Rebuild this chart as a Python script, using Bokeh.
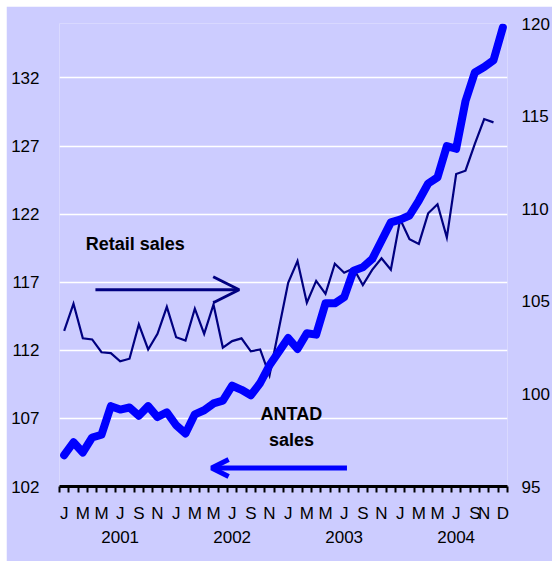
from bokeh.plotting import figure
from bokeh.models import (Range1d, LinearAxis, FixedTicker, Label, Arrow,
                          OpenHead, AllLabels, ColumnDataSource)
from bokeh.embed import file_html
from bokeh.resources import INLINE

nan = float("nan")

# ---- data -------------------------------------------------------------
month_index = list(range(48))  # Jan 2001 .. Dec 2004

antad_sales = [
    104.3, 105.25, 104.5, 105.6, 105.8, 107.9, 107.65, 107.8, 107.2, 107.9, 107.1, 107.45,
    106.5, 105.9, 107.3, 107.6, 108.1, 108.3, 109.4, 109.1, 108.7, 109.6, 110.9, 111.9,
    112.9, 112.1, 113.25, 113.15, 115.45, 115.45, 115.9, 117.85, 118.1, 118.7, 120.05, 121.4,
    121.6, 121.9, 123.0, 124.25, 124.7, 127.0, 126.8, 130.3, 132.4, 132.8, 133.3, 135.7,
]

retail_sales = [
    103.4, 104.87, 103.0, 102.94, 102.25, 102.2, 101.76, 101.9, 103.75, 102.4, 103.24, 104.7,
    103.06, 102.88, 104.6, 103.24, 104.83, 102.5, 102.85, 103.0, 102.3, 102.4, 101.0, 103.5,
    106.0, 107.17, 104.92, 106.1, 105.4, 107.03, 106.54, 106.78, 105.88, 106.7, 107.32, 106.7,
    109.43, 108.35, 108.1, 109.75, 110.24, 108.44, 111.87, 112.05, 113.5, 114.84, 114.66, nan,
]

left_ticks = [102, 107, 112, 117, 122, 127, 132]
right_ticks = [95, 100, 105, 110, 115, 120]

month_label_pos = [0, 2, 4, 6, 8, 10,
                   12, 14, 16, 18, 20, 22,
                   24, 26, 28, 30, 32, 34,
                   36, 38, 40, 42, 44, 45, 47]
month_label_text = ["J", "M", "M", "J", "S", "N",
                    "J", "M", "M", "J", "S", "N",
                    "J", "M", "M", "J", "S", "N",
                    "J", "M", "M", "J", "S", "N", "D"]

year_label_pos = [6, 18, 30, 42]
year_label_text = ["2001", "2002", "2003", "2004"]

# annotation anchors (data units: month index, left-axis value)
retail_text_xy = (2.3, 119.8)
antad_text_x = 24.35
antad_text_y = [107.35, 105.45]
retail_arrow = (3.35, 18.75, 116.45)
antad_arrow = (30.3, 15.8, 103.36)

# ---- styling ----------------------------------------------------------
BG = "#CCCCFF"
FONT = "Liberation Sans"
TICK_FS = "17px"

p = figure(width=546, height=555, output_backend="svg", toolbar_location=None,
           x_range=Range1d(-0.5, 47.5), y_range=Range1d(102, 136),
           min_border_left=53, min_border_right=44, min_border_top=17,
           min_border_bottom=75)
p.margin = (6, 0, 0, 6)
p.background_fill_color = BG
p.border_fill_color = BG
p.outline_line_color = None

p.extra_y_ranges = {"retail": Range1d(95, 120)}

# grid
p.xgrid.visible = False
p.ygrid.ticker = FixedTicker(ticks=left_ticks[1:])
p.ygrid.grid_line_color = "white"
p.ygrid.grid_line_width = 1.5

# left axis
ya = p.yaxis[0]
ya.ticker = FixedTicker(ticks=left_ticks)
ya.axis_line_color = None
ya.major_tick_line_color = None
ya.minor_tick_line_color = None
ya.major_tick_out = 0
ya.major_tick_in = 0
ya.major_label_standoff = 20
ya.major_label_text_font = FONT
ya.major_label_text_font_size = TICK_FS
ya.major_label_text_color = "black"

# right axis
ra = LinearAxis(y_range_name="retail", ticker=FixedTicker(ticks=right_ticks))
ra.axis_line_color = None
ra.major_tick_line_color = None
ra.minor_tick_line_color = None
ra.major_tick_out = 0
ra.major_tick_in = 0
ra.major_label_standoff = 14
ra.major_label_text_font = FONT
ra.major_label_text_font_size = TICK_FS
ra.major_label_text_color = "black"
p.add_layout(ra, "right")

# bottom axis: month letters, tick marks between months
xa = p.xaxis[0]
xa.ticker = FixedTicker(ticks=month_label_pos,
                        minor_ticks=[i - 0.5 for i in month_index] + [47.5])
xa.major_label_overrides = {pos: txt for pos, txt in zip(month_label_pos, month_label_text)}
xa.major_label_policy = AllLabels()
xa.axis_line_color = "black"
xa.axis_line_width = 3
xa.major_tick_line_color = None
xa.major_tick_out = 0
xa.major_tick_in = 0
xa.minor_tick_line_color = "black"
xa.minor_tick_line_width = 2
xa.minor_tick_out = 6
xa.minor_tick_in = 0
xa.major_label_standoff = 11
xa.major_label_text_font = FONT
xa.major_label_text_font_size = TICK_FS
xa.major_label_text_color = "black"

# year axis
ya2 = LinearAxis(ticker=FixedTicker(ticks=year_label_pos))
ya2.major_label_overrides = {pos: txt for pos, txt in zip(year_label_pos, year_label_text)}
ya2.axis_line_color = None
ya2.major_tick_line_color = None
ya2.minor_tick_line_color = None
ya2.major_tick_out = 0
ya2.major_tick_in = 0
ya2.major_label_standoff = 5
ya2.major_label_text_font = FONT
ya2.major_label_text_font_size = TICK_FS
ya2.major_label_text_color = "black"
p.add_layout(ya2, "below")

# lines
src = ColumnDataSource(dict(x=month_index, antad=antad_sales, retail=retail_sales))
p.line("x", "retail", source=src, y_range_name="retail", line_color="#000080",
       line_width=2.2, line_join="miter")
p.line("x", "antad", source=src, line_color="#0000FF", line_width=8,
       line_join="round", line_cap="round")

# annotations
p.add_layout(Label(x=retail_text_xy[0], y=retail_text_xy[1], text="Retail sales",
                   text_font=FONT, text_font_size="18px", text_font_style="bold",
                   text_color="black", text_baseline="alphabetic", text_align="left"))
for txt, yv in zip(["ANTAD", "sales"], antad_text_y):
    p.add_layout(Label(x=antad_text_x, y=yv, text=txt,
                       text_font=FONT, text_font_size="18px", text_font_style="bold",
                       text_color="black", text_baseline="alphabetic", text_align="center"))

p.add_layout(Arrow(x_start=retail_arrow[0], x_end=retail_arrow[1],
                   y_start=retail_arrow[2], y_end=retail_arrow[2],
                   line_color="#000080", line_width=3,
                   end=OpenHead(size=26, line_color="#000080", line_width=3)))
p.add_layout(Arrow(x_start=antad_arrow[0], x_end=antad_arrow[1],
                   y_start=antad_arrow[2], y_end=antad_arrow[2],
                   line_color="#0000FF", line_width=5,
                   end=OpenHead(size=17, line_color="#0000FF", line_width=5)))

open("out.html", "w").write(file_html(p, INLINE))
